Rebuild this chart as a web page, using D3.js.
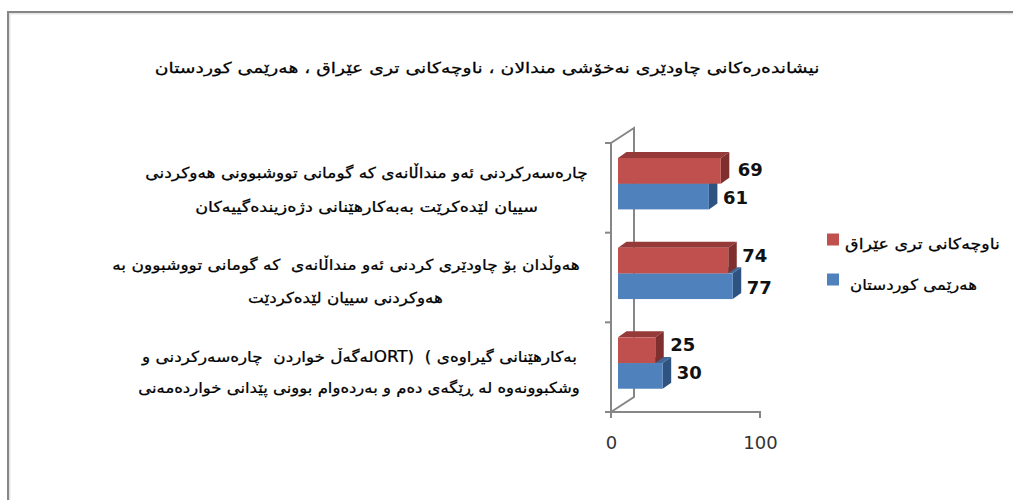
<!DOCTYPE html>
<html><head><meta charset="utf-8">
<script src="https://cdn.jsdelivr.net/npm/d3@7"></script>
<style>html,body{margin:0;padding:0;background:#fff}svg{display:block}text{font-family:"DejaVu Sans",sans-serif;white-space:pre}</style>
</head><body><svg id="c" width="1013" height="500"></svg>
<script>
const title = "نیشاندەرەکانی چاودێری نەخۆشی مندالان ، ناوچەکانی تری عێراق ، هەرێمی کوردستان";
const categories = [
  ["چارەسەرکردنی ئەو منداڵانەی کە گومانی تووشبوونی هەوکردنی", "سییان لێدەکرێت بەبەکارهێنانی دژەزیندەگییەکان"],
  ["هەوڵدان بۆ چاودێری کردنی ئەو منداڵانەی  کە گومانی تووشبوون بە", "هەوکردنی سییان لێدەکردێت"],
  ["بەکارهێنانی گیراوەی )  (ORTلەگەڵ خواردن  چارەسەرکردنی و", "وشکبوونەوە لە ڕێگەی دەم و بەردەوام بوونی پێدانی خواردەمەنی"]
];
const seriesNames = ["ناوچەکانی تری عێراق", "هەرێمی کوردستان"];
const iraq = [69, 74, 25];
const kurdistan = [61, 77, 30];
const xTicks = [0, 100];

const svg = d3.select("#c");
const C = {red:"#C0504D", redTop:"#953A38", redSide:"#7F302E", blue:"#4F81BD", blueTop:"#3F6797", blueSide:"#2F5380", axis:"#868686"};
const DX = 8.5, DY = 6, WX = 23, WY = 15;
const x = d3.scaleLinear().domain([0,100]).range([611,760]);
const y = d3.scaleBand().domain(d3.range(3)).range([143,412]);
const barH = 25.7, barInset = 7;

function fitText(sel, cx, cy, width){
  const w = sel.node().getComputedTextLength();
  sel.attr("text-anchor","middle").attr("direction","rtl").attr("dominant-baseline","central")
     .attr("stroke","#000").attr("stroke-width",0.25)
     .attr("transform",`translate(${cx},${cy}) scale(${width/w},1)`);
}

svg.append("path").attr("d","M9.5,500V13.5H1013").attr("fill","none").attr("stroke","#e4e4e4").attr("stroke-width",2);
svg.append("path").attr("d","M8,500V12H1013").attr("fill","none").attr("stroke",C.axis).attr("stroke-width",2);

fitText(svg.append("text").attr("fill","#000").attr("font-size",15).text(title), 487, 68, 665);

const wall = svg.append("g").attr("fill","none").attr("stroke",C.axis).attr("stroke-width",2);
const x0 = x(0), plotTop = y.range()[0], plotBot = y.range()[1];
wall.append("path").attr("d",`M${x0},${plotTop}L${x0+WX},${plotTop-WY}V${plotBot-WY}L${x0},${plotBot}`);

function bar(g, v, yTop, front, topC, side){
  const xl = x0 + barInset, xr = x(v) + barInset;
  g.append("path").attr("fill",topC).attr("d",`M${xl},${yTop}L${xl+DX},${yTop-DY}H${xr+DX}L${xr},${yTop}Z`);
  g.append("path").attr("fill",side).attr("d",`M${xr},${yTop}L${xr+DX},${yTop-DY}V${yTop+barH-DY}L${xr},${yTop+barH}Z`);
  g.append("rect").attr("x",xl).attr("y",yTop).attr("width",xr-xl).attr("height",barH).attr("fill",front);
}
const gBars = svg.append("g");
d3.range(3).forEach(i=>{
  const t = y(i) + 15;
  bar(gBars, kurdistan[i], t+barH, C.blue, C.blueTop, C.blueSide);
  bar(gBars, iraq[i], t, C.red, C.redTop, C.redSide);
});

const axG = svg.append("g").attr("fill","none").attr("stroke",C.axis).attr("stroke-width",2);
axG.append("path").attr("d",`M${x0},${plotTop}V${plotBot}H${x(100)}V${plotBot+6}M${x0},${plotBot}V${plotBot+6}`);
d3.range(4).forEach(i=>{
  const yy = plotTop + i*y.bandwidth();
  axG.append("path").attr("d",`M${x0-6},${yy}H${x0}`);
});
const axis = d3.axisBottom(x).tickValues(xTicks).tickSize(0).tickPadding(0);
const gx = svg.append("g").attr("transform",`translate(0,${plotBot})`).call(axis);
gx.select(".domain").remove();
gx.selectAll("text").attr("font-size",18).attr("fill","#333").attr("dy",0).attr("y",30).attr("dominant-baseline","central").style("font-family",'"DejaVu Sans",sans-serif');

const lblDx = [[17,14],[14,14],[15,14]], lblDy = [[-1,1],[-5,1],[-6,-3]];
d3.range(3).forEach(i=>{
  const t = y(i)+15;
  [[iraq,0],[kurdistan,1]].forEach(([arr,s])=>{
    svg.append("text").attr("font-size",18).attr("font-weight","bold").attr("fill","#111")
      .attr("dominant-baseline","central")
      .attr("x",x(arr[i])+barInset+lblDx[i][s]).attr("y",t+barH*(s+.5)+lblDy[i][s]).text(arr[i]);
  });
});

const catPos = [[[366.5,173,443],[366.5,207,343]],[[346,265,468],[345.5,298,195]],[[359.5,357,435],[359,388,442]]];
categories.forEach((lines,i)=>lines.forEach((l,j)=>{
  const [cx,cy,w] = catPos[i][j];
  fitText(svg.append("text").attr("fill","#000").attr("font-size",15).text(l), cx, cy, w);
}));

const legPos = [[239.5,922.5,155],[279.5,913.5,127]];
[C.red,C.blue].forEach((c,i)=>{
  svg.append("rect").attr("x",827).attr("y",legPos[i][0]-6).attr("width",12).attr("height",12).attr("fill",c);
  fitText(svg.append("text").attr("fill","#000").attr("font-size",15).text(seriesNames[i]), legPos[i][1], legPos[i][0]+(i?5:4), legPos[i][2]);
});
</script></body></html>
